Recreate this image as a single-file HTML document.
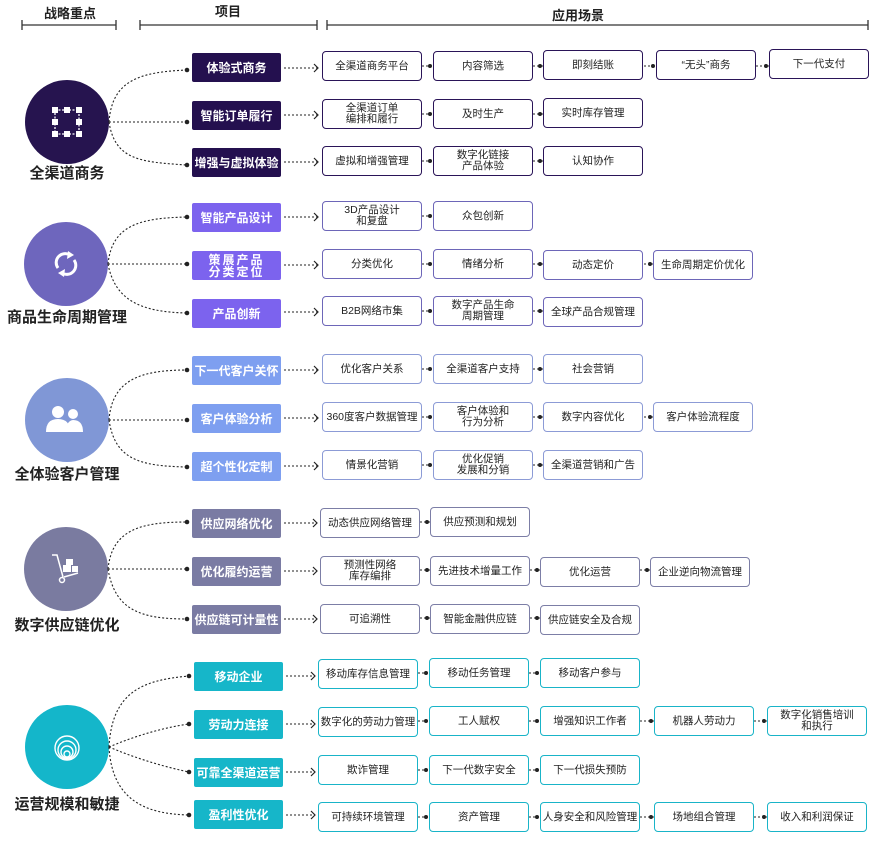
<!DOCTYPE html>
<html><head><meta charset="utf-8"><style>
body{margin:0;width:874px;height:843px;background:#fff;position:relative;overflow:hidden;font-family:"Liberation Sans","Noto Sans CJK SC",sans-serif;color:#222}
.b,.p{position:absolute;display:flex;align-items:center;justify-content:center;text-align:center;box-sizing:border-box}
.b{width:100px;height:30px;background:#fff;border:1.8px solid;border-radius:4px;font-size:10.5px;line-height:11px;white-space:nowrap}
.p{width:89px;height:29px;border-radius:2px;color:#fff;font-weight:bold;font-size:12px;line-height:12px;white-space:nowrap}
.s1 .b{border-color:#2a1458}.s1 .p{background:#24104f}
.s2 .b{border-color:#6d66b8}.s2 .p{background:#7c63ee}
.s3 .b{border-color:#8c9bd6}.s3 .p{background:#7e9ff0}
.s4 .b{border-color:#7c7ea6}.s4 .p{background:#7a7ba3}
.s5 .b{border-color:#19b4c8}.s5 .p{background:#16b6c9}
.h{position:absolute;font-weight:bold;font-size:13px;text-align:center}
.l{position:absolute;font-weight:bold;font-size:15px;text-align:center;width:150px;white-space:nowrap}
svg{position:absolute;left:0;top:0}
</style></head><body>
<svg width="874" height="843" viewBox="0 0 874 843">
<g stroke="#333" stroke-width="1.3" fill="none">
<path d="M22,25H116M22,20V30M116,20V30M140,25H317M140,20V30M317,20V30M327,25H868M327,20V30M868,20V30"/>
</g>
<circle cx="67" cy="122" r="42" fill="#26144f"/>
<circle cx="66" cy="264" r="42" fill="#6e66bd"/>
<circle cx="67" cy="420" r="42" fill="#8097d6"/>
<circle cx="66" cy="569" r="42" fill="#7a7ba0"/>
<circle cx="67" cy="747" r="42" fill="#14b6ca"/>
<g fill="none" stroke="#fff" stroke-width="1.3" stroke-dasharray="2 1.5"><rect x="55" y="110" width="24" height="24"/></g>
<g fill="#fff"><rect x="52" y="107" width="6" height="6"/><rect x="76" y="107" width="6" height="6"/><rect x="52" y="131" width="6" height="6"/><rect x="76" y="131" width="6" height="6"/><rect x="64" y="107" width="6" height="6"/><rect x="64" y="131" width="6" height="6"/><rect x="52" y="119" width="6" height="6"/><rect x="76" y="119" width="6" height="6"/></g>
<g fill="none" stroke="#fff" stroke-width="3"><path d="M58,268 A9,9 0 0 1 70,255"/><path d="M74,260 A9,9 0 0 1 62,273"/></g>
<g fill="#fff"><path d="M68,251 L74,255 L67,259Z"/><path d="M64,277 L58,273 L65,269Z"/></g>
<g fill="#fff"><circle cx="58" cy="412" r="6"/><path d="M46,432 q0,-13 12,-13 q12,0 12,13z"/><circle cx="73" cy="414" r="5"/><path d="M66,432 q0,-11 7,-12 q10,0 10,12z"/></g>
<g fill="none" stroke="#fff" stroke-width="1.5"><path d="M52,555 h5 l6,22"/><circle cx="62" cy="580" r="2.5"/><path d="M64,577 l14,-4"/></g>
<g fill="#fff"><rect x="63" y="565" width="8" height="7"/><rect x="66" y="559" width="7" height="6"/><rect x="72" y="566" width="6" height="6"/></g>
<g fill="none" stroke="#fff" stroke-width="1.4"><circle cx="67" cy="748" r="12"/><circle cx="67" cy="750" r="9"/><circle cx="67" cy="752" r="6"/><circle cx="67" cy="754" r="3"/></g>
<g fill="none" stroke="#222" stroke-width="1.1" stroke-dasharray="2 2">
<path d="M109,122 C112,80 140,72 187,70M109,122H187M109,122 C115,160 140,162 187,165"/>
<path d="M108,264 C112,225 140,218 187,217M108,264H187M108,264 C115,300 140,312 187,313"/>
<path d="M109,420 C112,380 140,370 187,370M109,420H187M109,420 C115,460 140,466 187,467"/>
<path d="M108,569 C112,530 140,522 187,522M108,569H187M108,569 C115,610 140,619 187,619"/>
<path d="M109,747 C112,690 145,680 189,676M109,747 C130,738 160,728 189,724M109,747 C130,756 160,766 189,772M109,747 C112,800 145,814 189,815"/>
<path d="M284,68H317M284,115H317M284,162H317M284,217H317M284,265H317M284,312H317M284,370H317M284,418H317M284,466H317M284,523H316M284,571H316M284,619H316M286,676H314M286,724H314M286,772H314M286,815H314"/>
<path d="M422,66H433M533,66H543M644,66H656M756,66H769M422,114H433M533,114H543M422,161H433M533,161H543"/>
<path d="M422,216H433M422,264H433M533,264H543M644,264H653M422,311H433M533,311H543"/>
<path d="M422,369H433M533,369H543M422,417H433M533,417H543M644,417H653M422,465H433M533,465H543"/>
<path d="M420,522H430M420,570H430M530,570H540M640,570H650M420,618H430M530,618H540"/>
<path d="M418,673H429M529,673H540M418,721H429M529,721H540M640,721H654M754,721H767M418,770H429M529,770H540M418,817H429M529,817H540M640,817H654M754,817H767"/>
</g>
<g fill="none" stroke="#222" stroke-width="1.2">
<path d="M314,64l4,4l-4,4M314,111l4,4l-4,4M314,158l4,4l-4,4M314,213l4,4l-4,4M314,261l4,4l-4,4M314,308l4,4l-4,4M314,366l4,4l-4,4M314,414l4,4l-4,4M314,462l4,4l-4,4M313,519l4,4l-4,4M313,567l4,4l-4,4M313,615l4,4l-4,4M311,672l4,4l-4,4M311,720l4,4l-4,4M311,768l4,4l-4,4M311,811l4,4l-4,4"/>
</g>
<g fill="#222">
<circle cx="187" cy="70" r="2.3"/><circle cx="187" cy="122" r="2.3"/><circle cx="187" cy="165" r="2.3"/>
<circle cx="187" cy="217" r="2.3"/><circle cx="187" cy="264" r="2.3"/><circle cx="187" cy="313" r="2.3"/>
<circle cx="187" cy="370" r="2.3"/><circle cx="187" cy="420" r="2.3"/><circle cx="187" cy="467" r="2.3"/>
<circle cx="187" cy="522" r="2.3"/><circle cx="187" cy="569" r="2.3"/><circle cx="187" cy="619" r="2.3"/>
<circle cx="189" cy="676" r="2.3"/><circle cx="189" cy="724" r="2.3"/><circle cx="189" cy="772" r="2.3"/><circle cx="189" cy="815" r="2.3"/>
<circle cx="430" cy="66" r="2"/><circle cx="540" cy="66" r="2"/><circle cx="653" cy="66" r="2"/><circle cx="766" cy="66" r="2"/>
<circle cx="430" cy="114" r="2"/><circle cx="540" cy="114" r="2"/><circle cx="430" cy="161" r="2"/><circle cx="540" cy="161" r="2"/>
<circle cx="430" cy="216" r="2"/><circle cx="430" cy="264" r="2"/><circle cx="540" cy="264" r="2"/><circle cx="650" cy="264" r="2"/><circle cx="430" cy="311" r="2"/><circle cx="540" cy="311" r="2"/>
<circle cx="430" cy="369" r="2"/><circle cx="540" cy="369" r="2"/><circle cx="430" cy="417" r="2"/><circle cx="540" cy="417" r="2"/><circle cx="650" cy="417" r="2"/><circle cx="430" cy="465" r="2"/><circle cx="540" cy="465" r="2"/>
<circle cx="427" cy="522" r="2"/><circle cx="427" cy="570" r="2"/><circle cx="537" cy="570" r="2"/><circle cx="647" cy="570" r="2"/><circle cx="427" cy="618" r="2"/><circle cx="537" cy="618" r="2"/>
<circle cx="426" cy="673" r="2"/><circle cx="537" cy="673" r="2"/><circle cx="426" cy="721" r="2"/><circle cx="537" cy="721" r="2"/><circle cx="651" cy="721" r="2"/><circle cx="764" cy="721" r="2"/><circle cx="426" cy="770" r="2"/><circle cx="537" cy="770" r="2"/><circle cx="426" cy="817" r="2"/><circle cx="537" cy="817" r="2"/><circle cx="651" cy="817" r="2"/><circle cx="764" cy="817" r="2"/>
</g>
</svg>
<div class="h" style="left:20px;top:3px;width:100px">战略重点</div>
<div class="h" style="left:178px;top:1px;width:100px">项目</div>
<div class="h" style="left:528px;top:5px;width:100px">应用场景</div>
<div class="l" style="left:-8px;top:162px">全渠道商务</div>
<div class="l" style="left:-8px;top:306px">商品生命周期管理</div>
<div class="l" style="left:-8px;top:463px">全体验客户管理</div>
<div class="l" style="left:-8px;top:614px">数字供应链优化</div>
<div class="l" style="left:-8px;top:793px">运营规模和敏捷</div>

<div class="s1">
<div class="p" style="left:192px;top:53px">体验式商务</div>
<div class="p" style="left:192px;top:101px">智能订单履行</div>
<div class="p" style="left:192px;top:148px">增强与虚拟体验</div>
<div class="b" style="left:322px;top:51px">全渠道商务平台</div>
<div class="b" style="left:433px;top:51px">内容筛选</div>
<div class="b" style="left:543px;top:50px">即刻结账</div>
<div class="b" style="left:656px;top:50px">“无头”商务</div>
<div class="b" style="left:769px;top:49px">下一代支付</div>
<div class="b" style="left:322px;top:99px">全渠道订单<br>编排和履行</div>
<div class="b" style="left:433px;top:99px">及时生产</div>
<div class="b" style="left:543px;top:98px">实时库存管理</div>
<div class="b" style="left:322px;top:146px">虚拟和增强管理</div>
<div class="b" style="left:433px;top:146px">数字化链接<br>产品体验</div>
<div class="b" style="left:543px;top:146px">认知协作</div>
</div>
<div class="s2">
<div class="p" style="left:192px;top:203px">智能产品设计</div>
<div class="p" style="left:192px;top:251px;letter-spacing:2px">策展产品<br>分类定位</div>
<div class="p" style="left:192px;top:299px">产品创新</div>
<div class="b" style="left:322px;top:201px">3D产品设计<br>和复盘</div>
<div class="b" style="left:433px;top:201px">众包创新</div>
<div class="b" style="left:322px;top:249px">分类优化</div>
<div class="b" style="left:433px;top:249px">情绪分析</div>
<div class="b" style="left:543px;top:250px">动态定价</div>
<div class="b" style="left:653px;top:250px">生命周期定价优化</div>
<div class="b" style="left:322px;top:296px">B2B网络市集</div>
<div class="b" style="left:433px;top:296px">数字产品生命<br>周期管理</div>
<div class="b" style="left:543px;top:297px">全球产品合规管理</div>
</div>
<div class="s3">
<div class="p" style="left:192px;top:356px">下一代客户关怀</div>
<div class="p" style="left:192px;top:404px">客户体验分析</div>
<div class="p" style="left:192px;top:452px">超个性化定制</div>
<div class="b" style="left:322px;top:354px">优化客户关系</div>
<div class="b" style="left:433px;top:354px">全渠道客户支持</div>
<div class="b" style="left:543px;top:354px">社会营销</div>
<div class="b" style="left:322px;top:402px">360度客户数据管理</div>
<div class="b" style="left:433px;top:402px">客户体验和<br>行为分析</div>
<div class="b" style="left:543px;top:402px">数字内容优化</div>
<div class="b" style="left:653px;top:402px">客户体验流程度</div>
<div class="b" style="left:322px;top:450px">情景化营销</div>
<div class="b" style="left:433px;top:450px">优化促销<br>发展和分销</div>
<div class="b" style="left:543px;top:450px">全渠道营销和广告</div>
</div>
<div class="s4">
<div class="p" style="left:192px;top:509px">供应网络优化</div>
<div class="p" style="left:192px;top:557px">优化履约运营</div>
<div class="p" style="left:192px;top:605px">供应链可计量性</div>
<div class="b" style="left:320px;top:508px">动态供应网络管理</div>
<div class="b" style="left:430px;top:507px">供应预测和规划</div>
<div class="b" style="left:320px;top:556px">预测性网络<br>库存编排</div>
<div class="b" style="left:430px;top:556px">先进技术增量工作</div>
<div class="b" style="left:540px;top:557px">优化运营</div>
<div class="b" style="left:650px;top:557px">企业逆向物流管理</div>
<div class="b" style="left:320px;top:604px">可追溯性</div>
<div class="b" style="left:430px;top:604px">智能金融供应链</div>
<div class="b" style="left:540px;top:605px">供应链安全及合规</div>
</div>
<div class="s5">
<div class="p" style="left:194px;top:662px">移动企业</div>
<div class="p" style="left:194px;top:710px">劳动力连接</div>
<div class="p" style="left:194px;top:758px">可靠全渠道运营</div>
<div class="p" style="left:194px;top:800px">盈利性优化</div>
<div class="b" style="left:318px;top:659px">移动库存信息管理</div>
<div class="b" style="left:429px;top:658px">移动任务管理</div>
<div class="b" style="left:540px;top:658px">移动客户参与</div>
<div class="b" style="left:318px;top:707px">数字化的劳动力管理</div>
<div class="b" style="left:429px;top:706px">工人赋权</div>
<div class="b" style="left:540px;top:706px">增强知识工作者</div>
<div class="b" style="left:654px;top:706px">机器人劳动力</div>
<div class="b" style="left:767px;top:706px">数字化销售培训<br>和执行</div>
<div class="b" style="left:318px;top:755px">欺诈管理</div>
<div class="b" style="left:429px;top:755px">下一代数字安全</div>
<div class="b" style="left:540px;top:755px">下一代损失预防</div>
<div class="b" style="left:318px;top:802px">可持续环境管理</div>
<div class="b" style="left:429px;top:802px">资产管理</div>
<div class="b" style="left:540px;top:802px">人身安全和风险管理</div>
<div class="b" style="left:654px;top:802px">场地组合管理</div>
<div class="b" style="left:767px;top:802px">收入和利润保证</div>
</div>
</body></html>
